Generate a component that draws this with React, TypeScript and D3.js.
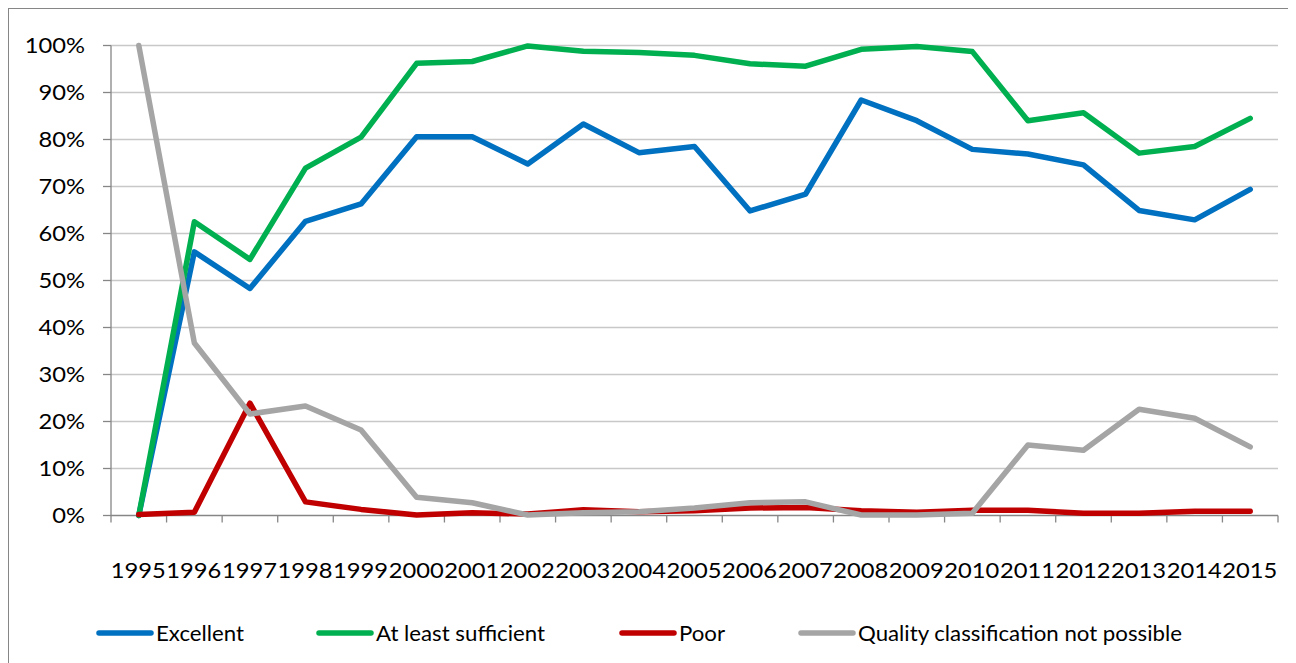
import React from "react";
import * as d3 from "d3";

const years = ["1995","1996","1997","1998","1999","2000","2001","2002","2003","2004","2005","2006","2007","2008","2009","2010","2011","2012","2013","2014","2015"];
const excellent = [0, 56.1, 48.3, 62.6, 66.3, 80.6, 80.6, 74.8, 83.3, 77.2, 78.5, 64.8, 68.4, 88.4, 84.0, 77.9, 76.9, 74.6, 64.9, 62.9, 69.4];
const sufficient = [0, 62.5, 54.5, 73.9, 80.5, 96.2, 96.6, 99.9, 98.8, 98.5, 97.9, 96.1, 95.6, 99.2, 99.8, 98.7, 84.0, 85.7, 77.1, 78.5, 84.5];
const poor = [0.2, 0.7, 23.9, 2.9, 1.3, 0.1, 0.6, 0.3, 1.2, 0.8, 1.0, 1.6, 1.7, 1.0, 0.7, 1.1, 1.1, 0.5, 0.5, 0.9, 0.9];
const notPossible = [100, 36.7, 21.6, 23.3, 18.2, 3.9, 2.7, 0.1, 0.6, 0.8, 1.6, 2.7, 2.9, 0.1, 0.1, 0.5, 15.0, 13.9, 22.6, 20.7, 14.6];
const seriesNames = ["Excellent", "At least sufficient", "Poor", "Quality classification not possible"];
const seriesColors = ["#0070C0", "#00B050", "#C00000", "#A5A5A5"];
const yTicks = [0, 10, 20, 30, 40, 50, 60, 70, 80, 90, 100];

const W = 1288;
const H = 655;
const OX = 8; // page offset of svg
const OY = 8;

export default function App() {
  const font = "Lato, 'Open Sans', sans-serif";
  const x = d3.scaleBand<string>().domain(years).range([111 - OX, 1278 - OX]);
  const y = d3.scaleLinear().domain([0, 100]).range([515.5 - OY, 45.5 - OY]);
  const xc = (yr: string) => (x(yr) as number) + x.bandwidth() / 2;
  const all = [excellent, sufficient, poor, notPossible];
  const line = d3
    .line<number>()
    .x((_, i) => xc(years[i]))
    .y((v) => y(v));
  const legendLineX = [97, 317, 620, 799];
  const left = 111 - OX;
  const right = 1278 - OX;
  const base = y(0);
  const ax = 1.13;
  return (
    <svg width={W} height={H} style={{ display: "block" }}>
      <rect x={0} y={0} width={W} height={H} fill="#fff" />
      <rect x={0.5} y={0.5} width={W + 50} height={H + 50} fill="none" stroke="#868686" strokeWidth={1} />
      {yTicks.map((t) => (
        <g key={t}>
          {t > 0 && <line x1={left} x2={right} y1={y(t)} y2={y(t)} stroke="#C8C8C8" strokeWidth={1.3} />}
          <line x1={left - 8} x2={left} y1={y(t)} y2={y(t)} stroke="#868686" strokeWidth={1.3} />
          <text transform={`translate(${85 - OX},${y(t) + 7.8}) scale(${ax},1)`} textAnchor="end" fontFamily={font} fontSize={21} fill="#000">
            {t}%
          </text>
        </g>
      ))}
      <line x1={left} x2={left} y1={y(100)} y2={base} stroke="#868686" strokeWidth={1.3} />
      <line x1={left} x2={right} y1={base} y2={base} stroke="#868686" strokeWidth={1.3} />
      {years.map((yr) => (
        <g key={yr}>
          <line x1={x(yr) as number} x2={x(yr) as number} y1={base} y2={base + 7} stroke="#868686" strokeWidth={1.3} />
          <text transform={`translate(${xc(yr) - 0.5},${578 - OY}) scale(${ax},1)`} textAnchor="middle" fontFamily={font} fontSize={21} fill="#000">
            {yr}
          </text>
        </g>
      ))}
      <line x1={right} x2={right} y1={base} y2={base + 7} stroke="#868686" strokeWidth={1.3} />
      {all.map((s, i) => (
        <path key={i} d={line(s) || ""} fill="none" stroke={seriesColors[i]} strokeWidth={5.5} strokeLinejoin="round" strokeLinecap="round" />
      ))}
      {seriesNames.map((n, i) => (
        <g key={n}>
          <line x1={legendLineX[i] + 2 - OX} x2={legendLineX[i] + 54 - OX} y1={633 - OY} y2={633 - OY} stroke={seriesColors[i]} strokeWidth={5.5} strokeLinecap="round" />
          <text transform={`translate(${legendLineX[i] + 59 - OX},${640.5 - OY}) scale(1.035,1)`} fontFamily={font} fontSize={21.5} fill="#000">
            {n}
          </text>
        </g>
      ))}
    </svg>
  );
}
